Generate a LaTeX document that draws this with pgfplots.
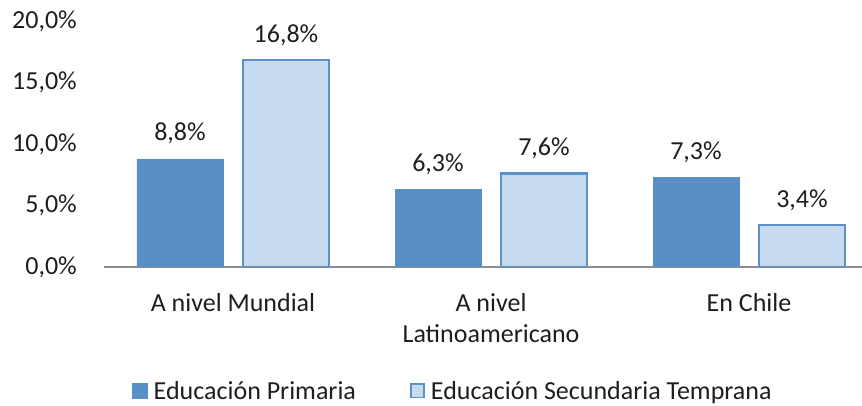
\documentclass[border=0pt]{standalone}
\usepackage{pgfplots}
\pgfplotsset{compat=1.18}
\usepackage{fontspec}
\setmainfont{Carlito}
\definecolor{prim}{RGB}{88,143,199}
\definecolor{secf}{RGB}{198,218,240}
\definecolor{secd}{RGB}{92,144,203}
\definecolor{txt}{RGB}{30,30,30}
\definecolor{axgray}{RGB}{140,140,140}
\begin{document}
\begin{tikzpicture}[font=\fontsize{26}{31}\selectfont, text=txt]
\useasboundingbox (-104pt,-139pt) rectangle (758pt,267pt);
\begin{axis}[
 at={(0pt,0pt)}, anchor=south west,
 scale only axis, width=758pt, height=246pt,
 xmin=-0.5, xmax=2.438, ymin=0, ymax=20,
 ybar=20pt, bar width=86pt,
 axis x line=bottom, axis y line=left,
 x axis line style={draw=axgray, line width=2pt, -},
 y axis line style={draw=none},
 major tick length=0pt,
 xtick={0,1,2},
 xticklabels={A nivel Mundial, {A nivel\\Latinoamericano}, En Chile},
 xticklabel style={align=center, anchor=north, inner sep=0pt, yshift=-26pt},
 ytick={0,5,10,15,20},
 yticklabel={\pgfmathprintnumber[fixed,fixed zerofill,precision=1,use comma]{\tick}\%},
 yticklabel style={anchor=east, inner sep=0pt, xshift=-27pt},
 /pgf/number format/assume math mode=true,
 nodes near coords={\pgfmathprintnumber[fixed,fixed zerofill,precision=1,use comma,assume math mode=true]{\pgfplotspointmeta}\%},
 every node near coord/.append style={anchor=base, yshift=18pt, inner sep=0pt, text=txt},
 legend columns=2,
 legend style={draw=none, fill=none, at={(axis description cs:0.037,0)}, anchor=north west, yshift=-112pt, inner sep=0pt,
   /tikz/every even column/.append style={column sep=52pt},
   /tikz/every odd column/.append style={column sep=4pt}},
 legend cell align=left,
]
\addplot[fill=prim, draw=prim, line width=0.5pt,
  legend image code/.code={\draw[fill=prim, draw=prim] (0pt,-7.5pt) rectangle (15pt,7.5pt);}]
  coordinates {(0,8.8) (1,6.3) (2,7.3)};
\addplot[fill=secf, draw=secd, line width=2.2pt,
  legend image code/.code={\draw[fill=secf, draw=secd, line width=1.6pt] (0.8pt,-6.7pt) rectangle (14.2pt,6.7pt);}]
  coordinates {(0,16.8) (1,7.6) (2,3.4)};
\legend{Educación Primaria, Educación Secundaria Temprana}
\end{axis}
\end{tikzpicture}
\end{document}
